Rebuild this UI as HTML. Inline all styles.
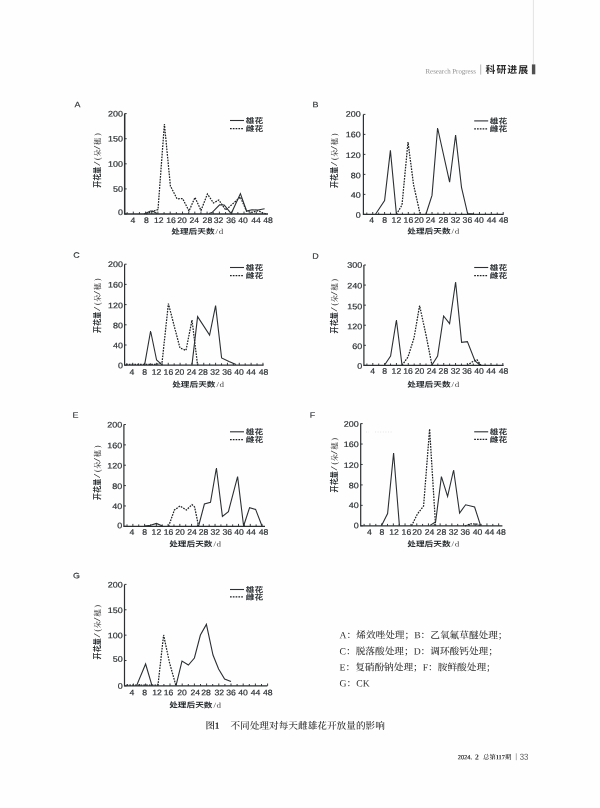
<!DOCTYPE html>
<html lang="zh-CN">
<head>
<meta charset="utf-8">
<title>图1 不同处理对每天雌雄花开放量的影响</title>
<style>
html,body{margin:0;padding:0;background:#fff;}
body{width:600px;height:808px;overflow:hidden;}
svg{display:block;}
text{fill:#2b3033;font-family:"Liberation Sans","Noto Sans CJK SC",sans-serif;}
.n{font-size:8.0px;stroke:#2b3033;stroke-width:0.2px;}
.e{text-anchor:end;}
.m{text-anchor:middle;}
.sl{fill:none;stroke:#2b3033;stroke-width:1.1px;stroke-linejoin:miter;}
.dt{fill:none;stroke:#1e2224;stroke-width:1.25px;stroke-dasharray:1.7 1.1;stroke-linejoin:miter;}
.axl{fill:none;stroke:#2b3033;}
.tk{fill:none;stroke:#2b3033;stroke-width:0.95px;}
.h{font-size:7.3px;font-weight:700;}
.k{font-family:"Liberation Serif","Noto Serif CJK SC",serif;font-size:7.6px;fill:#444;}
.h2{font-size:7.5px;font-weight:700;}
.k2{font-family:"Liberation Serif","Noto Serif CJK SC",serif;font-size:7.4px;fill:#2a2a2a;}
.k3{font-family:"Liberation Serif","Noto Serif CJK SC",serif;font-size:7.1px;fill:#2a2a2a;}
.lg{font-size:7.4px;font-weight:500;stroke:#2b3033;stroke-width:0.15px;}
.pl{font-size:7.8px;text-anchor:middle;stroke:#2b3033;stroke-width:0.12px;}
.sf{font-family:"Liberation Serif","Noto Serif CJK SC",serif;}
.nt{font-family:"Liberation Serif","Noto Serif CJK SC",serif;font-size:9.66px;font-weight:500;fill:#2c2c2c;}
</style>
</head>
<body>
<svg width="600" height="808" viewBox="0 0 600 808">
<rect width="600" height="808" fill="#fefefe"/>
<g id="header">
<path d="M533.4 0V64.4" stroke="#dcdcdc" stroke-width="0.8" fill="none"/>
<rect x="531.9" y="64.4" width="3.4" height="9.9" fill="#505050"/>
<text class="sf" transform="translate(475.9 73.6) rotate(0.05)" font-size="6.85" text-anchor="end" style="fill:#8f8f8f">Research Progress</text>
<path d="M480.7 64.5V74.6" stroke="#999" stroke-width="0.7" fill="none"/>
<text transform="translate(485.5 73.1) rotate(0.05)" font-size="9.9" font-weight="bold" letter-spacing="1" style="fill:#2a2a2a">科研进展</text>
</g>
<g id="chartA">
<polyline class="dt" points="146,214 152,211.6 158,209.6 164.4,124 170.4,186 177,198.8 182.6,198.6 189,211 195,197.4 201,210.5 207.4,194 213.5,203 218.8,200 225.8,210 240.4,197 246.6,211.3 252,212.4 258,210.6 263,213 267,214"/>
<polyline class="sl" points="144,214 150.5,211 152.5,211 157,213.6"/>
<polyline class="sl" points="209,213.6 212,212.6 219.6,204.8 224.2,205 231.2,213.6 240.4,193.6 246.6,211 252,209.8 258,210 264.6,208.8"/>
<path class="axl" d="M124.7 113.6V214H268" stroke-width="1.5"/>
<text class="n e" transform="translate(123 215.05) rotate(0.05) scale(1.12 1)">0</text>
<text class="n e" transform="translate(123 191.75) rotate(0.05) scale(1.12 1)">50</text>
<text class="n e" transform="translate(123 166.65) rotate(0.05) scale(1.12 1)">100</text>
<text class="n e" transform="translate(123 141.55) rotate(0.05) scale(1.12 1)">150</text>
<text class="n e" transform="translate(123 116.45) rotate(0.05) scale(1.12 1)">200</text>
<path class="tk" d="M124.7 214h2 M124.7 188.9h2 M124.7 163.8h2 M124.7 138.7h2 M124.7 113.6h2 M127.15 214v-1.9 M133.3 214v-2.4 M139.45 214v-1.9 M145.6 214v-2.4 M151.75 214v-1.9 M157.9 214v-2.4 M164.05 214v-1.9 M170.2 214v-2.4 M176.35 214v-1.9 M182.5 214v-2.4 M188.65 214v-1.9 M194.8 214v-2.4 M200.95 214v-1.9 M207.1 214v-2.4 M213.25 214v-1.9 M219.4 214v-2.4 M225.55 214v-1.9 M231.7 214v-2.4 M237.85 214v-1.9 M244 214v-2.4 M250.15 214v-1.9 M256.3 214v-2.4 M262.45 214v-1.9"/>
<text class="n m" transform="translate(133 222.95) rotate(0.05) scale(1.08 1)">4</text>
<text class="n m" transform="translate(146.3 222.95) rotate(0.05) scale(1.08 1)">8</text>
<text class="n m" transform="translate(158.8 222.95) rotate(0.05) scale(1.08 1)">12</text>
<text class="n m" transform="translate(171 222.95) rotate(0.05) scale(1.08 1)">16</text>
<text class="n m" transform="translate(182 222.95) rotate(0.05) scale(1.08 1)">20</text>
<text class="n m" transform="translate(194.3 222.95) rotate(0.05) scale(1.08 1)">24</text>
<text class="n m" transform="translate(207.4 222.95) rotate(0.05) scale(1.08 1)">28</text>
<text class="n m" transform="translate(218.5 222.95) rotate(0.05) scale(1.08 1)">32</text>
<text class="n m" transform="translate(231 222.95) rotate(0.05) scale(1.08 1)">36</text>
<text class="n m" transform="translate(243 222.95) rotate(0.05) scale(1.08 1)">40</text>
<text class="n m" transform="translate(256 222.95) rotate(0.05) scale(1.08 1)">44</text>
<text class="n m" transform="translate(268 222.95) rotate(0.05) scale(1.08 1)">48</text>
<text class="xt" transform="translate(171.3 234) rotate(0.05) scale(1.185 1)"><tspan class="h">处理后天数</tspan><tspan class="k" dx="0.8" letter-spacing="0.6">/d</tspan></text>
<g transform="translate(99.8 187.8) rotate(-90)"><text class="h2" transform="scale(0.945 1)">开花量</text><text class="k2" transform="translate(22 0) scale(2.1 1)">/</text><text class="k2" x="27.9">(</text><text class="k3" x="31.2">朵</text><text class="k2" transform="translate(38.2 0) scale(1.8 1)">/</text><text class="k3" x="42.8">穗</text><text class="k2" x="52">)</text></g>
<path class="sl" d="M230 120.5h14"/>
<path class="dt" d="M230 128.5h14"/>
<text class="lg" transform="translate(245.8 123.25) rotate(0.05) scale(1.17 1)">雄花</text>
<text class="lg" transform="translate(245.8 131.25) rotate(0.05) scale(1.17 1)">雌花</text>
<text class="pl" transform="translate(77.6 107.2) rotate(0.05) scale(1.15 1)">A</text>
</g>
<g id="chartB">
<polyline class="dt" points="396.4,214.4 402,205 408,142 413.6,185 420,213.4"/>
<polyline class="sl" points="375.5,214.2 384.6,200.6 390.4,150.4 396.4,214"/>
<polyline class="sl" points="426,214 432,195.4 437.6,128 449.6,182.2 455.6,135 461.5,187.3 467.6,213.6 474,214"/>
<path class="axl" d="M363.4 114.4V214.4H503.6" stroke-width="1.2"/>
<text class="n e" transform="translate(360.7 217.75) rotate(0.05) scale(1.12 1)">0</text>
<text class="n e" transform="translate(360.7 197.65) rotate(0.05) scale(1.12 1)">40</text>
<text class="n e" transform="translate(360.7 178.35) rotate(0.05) scale(1.12 1)">80</text>
<text class="n e" transform="translate(360.7 158.05) rotate(0.05) scale(1.12 1)">120</text>
<text class="n e" transform="translate(360.7 137.25) rotate(0.05) scale(1.12 1)">160</text>
<text class="n e" transform="translate(360.7 116.85) rotate(0.05) scale(1.12 1)">200</text>
<path class="tk" d="M363.4 214.4h2 M363.4 194.4h2 M363.4 174.4h2 M363.4 154.4h2 M363.4 134.4h2 M363.4 114.4h2 M366.8 214.4v-1.9 M372.73 214.4v-2.4 M378.66 214.4v-1.9 M384.59 214.4v-2.4 M390.52 214.4v-1.9 M396.45 214.4v-2.4 M402.38 214.4v-1.9 M408.31 214.4v-2.4 M414.24 214.4v-1.9 M420.17 214.4v-2.4 M426.1 214.4v-1.9 M432.03 214.4v-2.4 M437.96 214.4v-1.9 M443.89 214.4v-2.4 M449.82 214.4v-1.9 M455.75 214.4v-2.4 M461.68 214.4v-1.9 M467.61 214.4v-2.4 M473.54 214.4v-1.9 M479.47 214.4v-2.4 M485.4 214.4v-1.9 M491.33 214.4v-2.4 M497.26 214.4v-1.9 M503.19 214.4v-2.4"/>
<text class="n m" transform="translate(371.6 222.65) rotate(0.05) scale(1.08 1)">4</text>
<text class="n m" transform="translate(384.6 222.65) rotate(0.05) scale(1.08 1)">8</text>
<text class="n m" transform="translate(396.4 222.65) rotate(0.05) scale(1.08 1)">12</text>
<text class="n m" transform="translate(408.4 222.65) rotate(0.05) scale(1.08 1)">16</text>
<text class="n m" transform="translate(419 222.65) rotate(0.05) scale(1.08 1)">20</text>
<text class="n m" transform="translate(430.6 222.65) rotate(0.05) scale(1.08 1)">24</text>
<text class="n m" transform="translate(443.4 222.65) rotate(0.05) scale(1.08 1)">28</text>
<text class="n m" transform="translate(455.6 222.65) rotate(0.05) scale(1.08 1)">32</text>
<text class="n m" transform="translate(467.4 222.65) rotate(0.05) scale(1.08 1)">36</text>
<text class="n m" transform="translate(479 222.65) rotate(0.05) scale(1.08 1)">40</text>
<text class="n m" transform="translate(491.6 222.65) rotate(0.05) scale(1.08 1)">44</text>
<text class="n m" transform="translate(503.6 222.65) rotate(0.05) scale(1.08 1)">48</text>
<text class="xt" transform="translate(407.3 233.8) rotate(0.05) scale(1.185 1)"><tspan class="h">处理后天数</tspan><tspan class="k" dx="0.8" letter-spacing="0.6">/d</tspan></text>
<g transform="translate(337.3 188) rotate(-90)"><text class="h2" transform="scale(0.945 1)">开花量</text><text class="k2" transform="translate(22 0) scale(2.1 1)">/</text><text class="k2" x="27.9">(</text><text class="k3" x="31.2">朵</text><text class="k2" transform="translate(38.2 0) scale(1.8 1)">/</text><text class="k3" x="42.8">穗</text><text class="k2" x="52">)</text></g>
<path class="sl" d="M474.2 120.9h14"/>
<path class="dt" d="M474.2 128.8h14"/>
<text class="lg" transform="translate(489.8 123.65) rotate(0.05) scale(1.17 1)">雄花</text>
<text class="lg" transform="translate(489.8 131.55) rotate(0.05) scale(1.17 1)">雌花</text>
<text class="pl" transform="translate(315.6 107.2) rotate(0.05) scale(1.15 1)">B</text>
</g>
<g id="chartC">
<polyline class="dt" points="126,364.3 156,364.3 162,363 168.4,303.6 174.2,326 180,348 186,350.4 192,320 197.6,365.2"/>
<polyline class="sl" points="144.6,364.8 150.6,331 156.6,360 162,364.8"/>
<polyline class="sl" points="192,364.6 197.6,316.6 209.6,335 215.6,305.6 221.6,358 229,361.5 236,364.6"/>
<path class="axl" d="M124.6 264.2V365.2H263.6" stroke-width="1.2"/>
<text class="n e" transform="translate(122.9 368.15) rotate(0.05) scale(1.12 1)">0</text>
<text class="n e" transform="translate(122.9 348.15) rotate(0.05) scale(1.12 1)">40</text>
<text class="n e" transform="translate(122.9 328.35) rotate(0.05) scale(1.12 1)">80</text>
<text class="n e" transform="translate(122.9 308.35) rotate(0.05) scale(1.12 1)">120</text>
<text class="n e" transform="translate(122.9 287.55) rotate(0.05) scale(1.12 1)">160</text>
<text class="n e" transform="translate(122.9 266.95) rotate(0.05) scale(1.12 1)">200</text>
<path class="tk" d="M124.6 365.2h2 M124.6 345h2 M124.6 324.8h2 M124.6 304.6h2 M124.6 284.4h2 M124.6 264.2h2 M126.8 365.2v-1.9 M132.72 365.2v-2.4 M138.64 365.2v-1.9 M144.56 365.2v-2.4 M150.48 365.2v-1.9 M156.4 365.2v-2.4 M162.32 365.2v-1.9 M168.24 365.2v-2.4 M174.16 365.2v-1.9 M180.08 365.2v-2.4 M186 365.2v-1.9 M191.92 365.2v-2.4 M197.84 365.2v-1.9 M203.76 365.2v-2.4 M209.68 365.2v-1.9 M215.6 365.2v-2.4 M221.52 365.2v-1.9 M227.44 365.2v-2.4 M233.36 365.2v-1.9 M239.28 365.2v-2.4 M245.2 365.2v-1.9 M251.12 365.2v-2.4 M257.04 365.2v-1.9 M262.96 365.2v-2.4"/>
<text class="n m" transform="translate(132 374.65) rotate(0.05) scale(1.08 1)">4</text>
<text class="n m" transform="translate(144.6 374.65) rotate(0.05) scale(1.08 1)">8</text>
<text class="n m" transform="translate(156.6 374.65) rotate(0.05) scale(1.08 1)">12</text>
<text class="n m" transform="translate(168.4 374.65) rotate(0.05) scale(1.08 1)">16</text>
<text class="n m" transform="translate(179.6 374.65) rotate(0.05) scale(1.08 1)">20</text>
<text class="n m" transform="translate(191.6 374.65) rotate(0.05) scale(1.08 1)">24</text>
<text class="n m" transform="translate(203 374.65) rotate(0.05) scale(1.08 1)">28</text>
<text class="n m" transform="translate(215 374.65) rotate(0.05) scale(1.08 1)">32</text>
<text class="n m" transform="translate(227 374.65) rotate(0.05) scale(1.08 1)">36</text>
<text class="n m" transform="translate(239 374.65) rotate(0.05) scale(1.08 1)">40</text>
<text class="n m" transform="translate(251 374.65) rotate(0.05) scale(1.08 1)">44</text>
<text class="n m" transform="translate(263.6 374.65) rotate(0.05) scale(1.08 1)">48</text>
<text class="xt" transform="translate(172.2 386.9) rotate(0.05) scale(1.185 1)"><tspan class="h">处理后天数</tspan><tspan class="k" dx="0.8" letter-spacing="0.6">/d</tspan></text>
<g transform="translate(99.8 333) rotate(-90)"><text class="h2" transform="scale(0.945 1)">开花量</text><text class="k2" transform="translate(22 0) scale(2.1 1)">/</text><text class="k2" x="27.9">(</text><text class="k3" x="31.2">朵</text><text class="k2" transform="translate(38.2 0) scale(1.8 1)">/</text><text class="k3" x="42.8">穗</text><text class="k2" x="52">)</text></g>
<path class="sl" d="M230 267.5h14"/>
<path class="dt" d="M230 275.5h14"/>
<text class="lg" transform="translate(245.8 270.25) rotate(0.05) scale(1.17 1)">雄花</text>
<text class="lg" transform="translate(245.8 278.25) rotate(0.05) scale(1.17 1)">雌花</text>
<text class="pl" transform="translate(76.4 257.8) rotate(0.05) scale(1.15 1)">C</text>
</g>
<g id="chartD">
<polyline class="dt" points="402,365.4 408,357 414,338 419.6,305.6 426,335 432,365.4"/>
<polyline class="dt" points="467,365.4 473,361.5 477,359.8 481,365.4"/>
<polyline class="sl" points="384.6,365 390.6,356 396.4,320 402,365"/>
<polyline class="sl" points="432,365 437.6,356 443.6,316 449.6,323.6 455.6,282 461.6,342.4 467.4,341.6 475,361 480,365"/>
<path class="axl" d="M363.9 265V365.4H503.6" stroke-width="1.2"/>
<text class="n e" transform="translate(362.2 368.85) rotate(0.05) scale(1.12 1)">0</text>
<text class="n e" transform="translate(362.2 348.97) rotate(0.05) scale(1.12 1)">60</text>
<text class="n e" transform="translate(362.2 329.29) rotate(0.05) scale(1.12 1)">120</text>
<text class="n e" transform="translate(362.2 309.21) rotate(0.05) scale(1.12 1)">150</text>
<text class="n e" transform="translate(362.2 288.43) rotate(0.05) scale(1.12 1)">240</text>
<text class="n e" transform="translate(362.2 267.85) rotate(0.05) scale(1.12 1)">300</text>
<path class="tk" d="M363.9 365.4h2 M363.9 345.32h2 M363.9 325.24h2 M363.9 305.16h2 M363.9 285.08h2 M363.9 265h2 M366.9 365.4v-1.9 M372.81 365.4v-2.4 M378.72 365.4v-1.9 M384.63 365.4v-2.4 M390.54 365.4v-1.9 M396.45 365.4v-2.4 M402.36 365.4v-1.9 M408.27 365.4v-2.4 M414.18 365.4v-1.9 M420.09 365.4v-2.4 M426 365.4v-1.9 M431.91 365.4v-2.4 M437.82 365.4v-1.9 M443.73 365.4v-2.4 M449.64 365.4v-1.9 M455.55 365.4v-2.4 M461.46 365.4v-1.9 M467.37 365.4v-2.4 M473.28 365.4v-1.9 M479.19 365.4v-2.4 M485.1 365.4v-1.9 M491.01 365.4v-2.4 M496.92 365.4v-1.9 M502.83 365.4v-2.4"/>
<text class="n m" transform="translate(372.6 373.85) rotate(0.05) scale(1.08 1)">4</text>
<text class="n m" transform="translate(384.6 373.85) rotate(0.05) scale(1.08 1)">8</text>
<text class="n m" transform="translate(396.4 373.85) rotate(0.05) scale(1.08 1)">12</text>
<text class="n m" transform="translate(408 373.85) rotate(0.05) scale(1.08 1)">16</text>
<text class="n m" transform="translate(419.6 373.85) rotate(0.05) scale(1.08 1)">20</text>
<text class="n m" transform="translate(431.6 373.85) rotate(0.05) scale(1.08 1)">24</text>
<text class="n m" transform="translate(443.4 373.85) rotate(0.05) scale(1.08 1)">28</text>
<text class="n m" transform="translate(455.6 373.85) rotate(0.05) scale(1.08 1)">32</text>
<text class="n m" transform="translate(467 373.85) rotate(0.05) scale(1.08 1)">36</text>
<text class="n m" transform="translate(479 373.85) rotate(0.05) scale(1.08 1)">40</text>
<text class="n m" transform="translate(491 373.85) rotate(0.05) scale(1.08 1)">44</text>
<text class="n m" transform="translate(503.6 373.85) rotate(0.05) scale(1.08 1)">48</text>
<text class="xt" transform="translate(407.3 386.9) rotate(0.05) scale(1.185 1)"><tspan class="h">处理后天数</tspan><tspan class="k" dx="0.8" letter-spacing="0.6">/d</tspan></text>
<g transform="translate(337.3 333.4) rotate(-90)"><text class="h2" transform="scale(0.945 1)">开花量</text><text class="k2" transform="translate(22 0) scale(2.1 1)">/</text><text class="k2" x="27.9">(</text><text class="k3" x="31.2">朵</text><text class="k2" transform="translate(38.2 0) scale(1.8 1)">/</text><text class="k3" x="42.8">穗</text><text class="k2" x="52">)</text></g>
<path class="sl" d="M474.2 267.5h14"/>
<path class="dt" d="M474.2 275.5h14"/>
<text class="lg" transform="translate(489.8 270.25) rotate(0.05) scale(1.17 1)">雄花</text>
<text class="lg" transform="translate(489.8 278.25) rotate(0.05) scale(1.17 1)">雌花</text>
<text class="pl" transform="translate(315.6 258.8) rotate(0.05) scale(1.15 1)">D</text>
</g>
<g id="chartE">
<polyline class="dt" points="168.6,526.3 174.4,510 180,506 186.4,510 192,504.6 194.6,507 198.6,526.3"/>
<polyline class="sl" points="144.6,526 150.6,525.2 156.4,523.4 162.4,526"/>
<polyline class="sl" points="198.6,526 204.4,504 210.5,502.4 216.4,468 222.4,516.4 228.4,511.6 237.6,476.6 243.6,526 249.6,507.6 255.6,509.4 262,526"/>
<path class="axl" d="M123.9 424.5V526.3H265" stroke-width="1.2"/>
<text class="n e" transform="translate(122.2 528.25) rotate(0.05) scale(1.12 1)">0</text>
<text class="n e" transform="translate(122.2 508.89) rotate(0.05) scale(1.12 1)">40</text>
<text class="n e" transform="translate(122.2 488.93) rotate(0.05) scale(1.12 1)">80</text>
<text class="n e" transform="translate(122.2 468.57) rotate(0.05) scale(1.12 1)">120</text>
<text class="n e" transform="translate(122.2 448.21) rotate(0.05) scale(1.12 1)">160</text>
<text class="n e" transform="translate(122.2 427.45) rotate(0.05) scale(1.12 1)">200</text>
<path class="tk" d="M123.9 526.3h2 M123.9 505.94h2 M123.9 485.58h2 M123.9 465.22h2 M123.9 444.86h2 M123.9 424.5h2 M127 526.3v-1.9 M132.87 526.3v-2.4 M138.74 526.3v-1.9 M144.61 526.3v-2.4 M150.48 526.3v-1.9 M156.35 526.3v-2.4 M162.22 526.3v-1.9 M168.09 526.3v-2.4 M173.96 526.3v-1.9 M179.83 526.3v-2.4 M185.7 526.3v-1.9 M191.57 526.3v-2.4 M197.44 526.3v-1.9 M203.31 526.3v-2.4 M209.18 526.3v-1.9 M215.05 526.3v-2.4 M220.92 526.3v-1.9 M226.79 526.3v-2.4 M232.66 526.3v-1.9 M238.53 526.3v-2.4 M244.4 526.3v-1.9 M250.27 526.3v-2.4 M256.14 526.3v-1.9 M262.01 526.3v-2.4"/>
<text class="n m" transform="translate(132 534.65) rotate(0.05) scale(1.08 1)">4</text>
<text class="n m" transform="translate(144.6 534.65) rotate(0.05) scale(1.08 1)">8</text>
<text class="n m" transform="translate(156.4 534.65) rotate(0.05) scale(1.08 1)">12</text>
<text class="n m" transform="translate(168.6 534.65) rotate(0.05) scale(1.08 1)">16</text>
<text class="n m" transform="translate(180 534.65) rotate(0.05) scale(1.08 1)">20</text>
<text class="n m" transform="translate(192 534.65) rotate(0.05) scale(1.08 1)">24</text>
<text class="n m" transform="translate(203.6 534.65) rotate(0.05) scale(1.08 1)">28</text>
<text class="n m" transform="translate(215.3 534.65) rotate(0.05) scale(1.08 1)">32</text>
<text class="n m" transform="translate(227.3 534.65) rotate(0.05) scale(1.08 1)">36</text>
<text class="n m" transform="translate(239 534.65) rotate(0.05) scale(1.08 1)">40</text>
<text class="n m" transform="translate(251 534.65) rotate(0.05) scale(1.08 1)">44</text>
<text class="n m" transform="translate(263.6 534.65) rotate(0.05) scale(1.08 1)">48</text>
<text class="xt" transform="translate(169.2 546.4) rotate(0.05) scale(1.185 1)"><tspan class="h">处理后天数</tspan><tspan class="k" dx="0.8" letter-spacing="0.6">/d</tspan></text>
<g transform="translate(100 500) rotate(-90)"><text class="h2" transform="scale(0.945 1)">开花量</text><text class="k2" transform="translate(22 0) scale(2.1 1)">/</text><text class="k2" x="27.9">(</text><text class="k3" x="31.2">朵</text><text class="k2" transform="translate(38.2 0) scale(1.8 1)">/</text><text class="k3" x="42.8">穗</text><text class="k2" x="52">)</text></g>
<path class="sl" d="M230 431.8h14"/>
<path class="dt" d="M230 439.5h14"/>
<text class="lg" transform="translate(245.8 434.55) rotate(0.05) scale(1.17 1)">雄花</text>
<text class="lg" transform="translate(245.8 442.25) rotate(0.05) scale(1.17 1)">雌花</text>
<text class="pl" transform="translate(75.6 417.8) rotate(0.05) scale(1.15 1)">E</text>
</g>
<g id="chartF">
<polyline class="dt" points="411.6,525.8 417.4,514 423.6,506 429.6,429 435.6,525.8"/>
<polyline class="dt" points="465,525.8 471,523.8 477,524.2 481,525.8"/>
<polyline class="sl" points="381.6,525.6 387.6,513.6 393.6,453 399.4,525.6"/>
<polyline class="sl" points="430,525.4 435.6,522 441.4,476.6 447.6,496.4 453.6,470 459.6,513 465.6,504.8 474.6,507 480.6,525.6"/>
<path class="axl" d="M360.7 423.6V525.8H502.4" stroke-width="1.2"/>
<text class="n e" transform="translate(358.8 528.25) rotate(0.05) scale(1.12 1)">0</text>
<text class="n e" transform="translate(358.8 508.01) rotate(0.05) scale(1.12 1)">40</text>
<text class="n e" transform="translate(358.8 488.37) rotate(0.05) scale(1.12 1)">80</text>
<text class="n e" transform="translate(358.8 467.93) rotate(0.05) scale(1.12 1)">120</text>
<text class="n e" transform="translate(358.8 447.09) rotate(0.05) scale(1.12 1)">160</text>
<text class="n e" transform="translate(358.8 426.65) rotate(0.05) scale(1.12 1)">200</text>
<path class="tk" d="M360.7 525.8h2 M360.7 505.36h2 M360.7 484.92h2 M360.7 464.48h2 M360.7 444.04h2 M360.7 423.6h2 M364.1 525.8v-1.9 M369.95 525.8v-2.4 M375.8 525.8v-1.9 M381.65 525.8v-2.4 M387.5 525.8v-1.9 M393.35 525.8v-2.4 M399.2 525.8v-1.9 M405.05 525.8v-2.4 M410.9 525.8v-1.9 M416.75 525.8v-2.4 M422.6 525.8v-1.9 M428.45 525.8v-2.4 M434.3 525.8v-1.9 M440.15 525.8v-2.4 M446 525.8v-1.9 M451.85 525.8v-2.4 M457.7 525.8v-1.9 M463.55 525.8v-2.4 M469.4 525.8v-1.9 M475.25 525.8v-2.4 M481.1 525.8v-1.9 M486.95 525.8v-2.4 M492.8 525.8v-1.9 M498.65 525.8v-2.4"/>
<text class="n m" transform="translate(369.4 534.65) rotate(0.05) scale(1.08 1)">4</text>
<text class="n m" transform="translate(382 534.65) rotate(0.05) scale(1.08 1)">8</text>
<text class="n m" transform="translate(394 534.65) rotate(0.05) scale(1.08 1)">12</text>
<text class="n m" transform="translate(406.4 534.65) rotate(0.05) scale(1.08 1)">16</text>
<text class="n m" transform="translate(417 534.65) rotate(0.05) scale(1.08 1)">20</text>
<text class="n m" transform="translate(429.6 534.65) rotate(0.05) scale(1.08 1)">24</text>
<text class="n m" transform="translate(441.4 534.65) rotate(0.05) scale(1.08 1)">28</text>
<text class="n m" transform="translate(453.6 534.65) rotate(0.05) scale(1.08 1)">32</text>
<text class="n m" transform="translate(465.3 534.65) rotate(0.05) scale(1.08 1)">36</text>
<text class="n m" transform="translate(477.6 534.65) rotate(0.05) scale(1.08 1)">40</text>
<text class="n m" transform="translate(489.6 534.65) rotate(0.05) scale(1.08 1)">44</text>
<text class="n m" transform="translate(501 534.65) rotate(0.05) scale(1.08 1)">48</text>
<text class="xt" transform="translate(407.3 546.4) rotate(0.05) scale(1.185 1)"><tspan class="h">处理后天数</tspan><tspan class="k" dx="0.8" letter-spacing="0.6">/d</tspan></text>
<g transform="translate(337.3 492.4) rotate(-90)"><text class="h2" transform="scale(0.945 1)">开花量</text><text class="k2" transform="translate(22 0) scale(2.1 1)">/</text><text class="k2" x="27.9">(</text><text class="k3" x="31.2">朵</text><text class="k2" transform="translate(38.2 0) scale(1.8 1)">/</text><text class="k3" x="42.8">穗</text><text class="k2" x="52">)</text></g>
<path class="sl" d="M474.2 431.8h14"/>
<path class="dt" d="M474.2 439.4h14"/>
<text class="lg" transform="translate(489.8 434.55) rotate(0.05) scale(1.17 1)">雄花</text>
<text class="lg" transform="translate(489.8 442.15) rotate(0.05) scale(1.17 1)">雌花</text>
<text class="pl" transform="translate(312.4 417.8) rotate(0.05) scale(1.15 1)">F</text>
</g>
<g id="chartG">
<polyline class="dt" points="126.5,685 158,685 163.6,635 169.6,663 176,685.9"/>
<polyline class="sl" points="136.6,685.6 145.6,664 152,685.6"/>
<polyline class="sl" points="176,685.6 182,661 188.4,665 194.4,658 200.4,635 206.4,624.4 213,655 218.6,669 224.6,679 231,681.4"/>
<path class="axl" d="M124.5 584.4V685.9H267.4" stroke-width="1.2"/>
<text class="n e" transform="translate(122.8 688.75) rotate(0.05) scale(1.12 1)">0</text>
<text class="n e" transform="translate(122.8 661.67) rotate(0.05) scale(1.12 1)">50</text>
<text class="n e" transform="translate(122.8 638.3) rotate(0.05) scale(1.12 1)">100</text>
<text class="n e" transform="translate(122.8 612.92) rotate(0.05) scale(1.12 1)">150</text>
<text class="n e" transform="translate(122.8 587.55) rotate(0.05) scale(1.12 1)">200</text>
<path class="tk" d="M124.5 685.9h2 M124.5 660.52h2 M124.5 635.15h2 M124.5 609.77h2 M124.5 584.4h2 M127.3 685.9v-1.9 M133.4 685.9v-2.4 M139.5 685.9v-1.9 M145.6 685.9v-2.4 M151.7 685.9v-1.9 M157.8 685.9v-2.4 M163.9 685.9v-1.9 M170 685.9v-2.4 M176.1 685.9v-1.9 M182.2 685.9v-2.4 M188.3 685.9v-1.9 M194.4 685.9v-2.4 M200.5 685.9v-1.9 M206.6 685.9v-2.4 M212.7 685.9v-1.9 M218.8 685.9v-2.4 M224.9 685.9v-1.9 M231 685.9v-2.4 M237.1 685.9v-1.9 M243.2 685.9v-2.4 M249.3 685.9v-1.9 M255.4 685.9v-2.4 M261.5 685.9v-1.9 M267.6 685.9v-2.4"/>
<text class="n m" transform="translate(132 695.35) rotate(0.05) scale(1.08 1)">4</text>
<text class="n m" transform="translate(144.6 695.35) rotate(0.05) scale(1.08 1)">8</text>
<text class="n m" transform="translate(157 695.35) rotate(0.05) scale(1.08 1)">12</text>
<text class="n m" transform="translate(168.6 695.35) rotate(0.05) scale(1.08 1)">16</text>
<text class="n m" transform="translate(182 695.35) rotate(0.05) scale(1.08 1)">20</text>
<text class="n m" transform="translate(195.2 695.35) rotate(0.05) scale(1.08 1)">24</text>
<text class="n m" transform="translate(206 695.35) rotate(0.05) scale(1.08 1)">28</text>
<text class="n m" transform="translate(219.3 695.35) rotate(0.05) scale(1.08 1)">32</text>
<text class="n m" transform="translate(231 695.35) rotate(0.05) scale(1.08 1)">36</text>
<text class="n m" transform="translate(243.1 695.35) rotate(0.05) scale(1.08 1)">40</text>
<text class="n m" transform="translate(255.5 695.35) rotate(0.05) scale(1.08 1)">44</text>
<text class="n m" transform="translate(267.8 695.35) rotate(0.05) scale(1.08 1)">48</text>
<text class="xt" transform="translate(169.2 707.6) rotate(0.05) scale(1.185 1)"><tspan class="h">处理后天数</tspan><tspan class="k" dx="0.8" letter-spacing="0.6">/d</tspan></text>
<g transform="translate(99.8 659.4) rotate(-90)"><text class="h2" transform="scale(0.945 1)">开花量</text><text class="k2" transform="translate(22 0) scale(2.1 1)">/</text><text class="k2" x="27.9">(</text><text class="k3" x="31.2">朵</text><text class="k2" transform="translate(38.2 0) scale(1.8 1)">/</text><text class="k3" x="42.8">穗</text><text class="k2" x="52">)</text></g>
<path class="sl" d="M230 589.5h14"/>
<path class="dt" d="M230 596.9h14"/>
<text class="lg" transform="translate(245.8 592.25) rotate(0.05) scale(1.17 1)">雄花</text>
<text class="lg" transform="translate(245.8 599.65) rotate(0.05) scale(1.17 1)">雌花</text>
<text class="pl" transform="translate(76.6 578.2) rotate(0.05) scale(1.15 1)">G</text>
</g>
<path d="M366 432h3M375 432h17.5" stroke="#e3e5ea" stroke-width="1" stroke-dasharray="1 1.6" fill="none"/>
<g id="notes">
<text class="nt" transform="translate(339.6 638.3) rotate(0.05)">A：烯效唑处理；B：乙氧氟草醚处理；</text>
<text class="nt" transform="translate(339.6 654.4) rotate(0.05)">C：脱落酸处理；D：调环酸钙处理；</text>
<text class="nt" transform="translate(339.6 670.5) rotate(0.05)">E：复硝酚钠处理；F：胺鲜酸处理；</text>
<text class="nt" transform="translate(339.6 686.6) rotate(0.05)">G：CK</text>
</g>
<g id="caption">
<text class="sf" transform="translate(205.4 728.8) rotate(0.05)" font-size="9.4" font-weight="600" style="fill:#2e2e2e">图1</text>
<text class="nt" transform="translate(230.4 728.9) rotate(0.05)">不同处理对每天雌雄花开放量的影响</text>
</g>
<g id="footer">
<text class="sf" transform="translate(457.8 759.2) rotate(0.05)" font-size="6.3" style="fill:#2a2a2a;stroke:#2a2a2a;stroke-width:0.18px">2024.</text>
<text class="sf" transform="translate(474.9 759.5) rotate(0.05)" font-size="7.6" font-weight="bold" style="fill:#222">2</text>
<text class="sf" transform="translate(483 759.2) rotate(0.05)" font-size="6.4" font-weight="600" style="fill:#2a2a2a">总第117期</text>
<path d="M516.3 753.3V760.2" stroke="#777" stroke-width="0.6" fill="none"/>
<text transform="translate(519.8 759.8) rotate(0.05) scale(0.88 1)" font-size="8.8" style="fill:#555">33</text>
</g>
</svg>
</body>
</html>
